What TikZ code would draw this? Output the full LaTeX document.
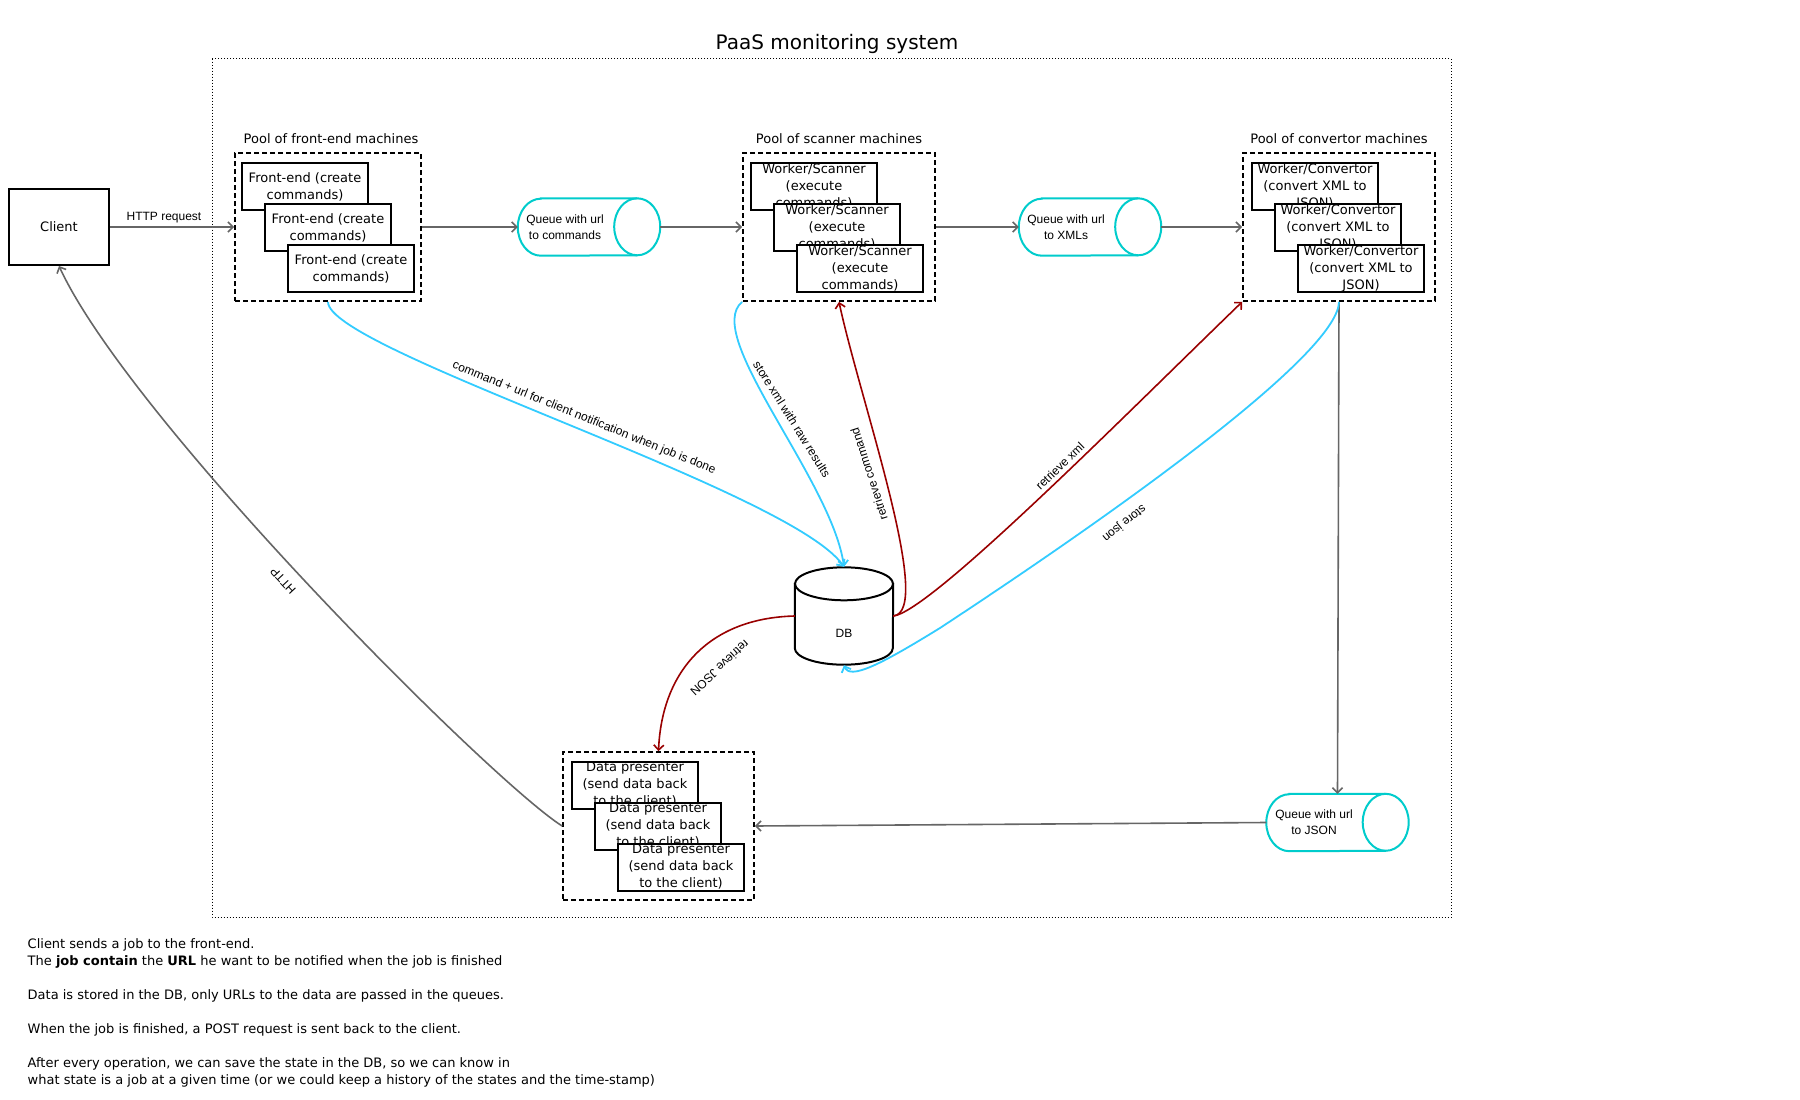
\documentclass[tikz,border=0pt]{standalone}
\usepackage{fontspec}
\setmainfont{DejaVu Sans}
\newfontfamily\lib{Liberation Sans}
\usetikzlibrary{arrows.meta,calc}
\definecolor{gline}{HTML}{666666}
\definecolor{bline}{HTML}{33CCFF}
\definecolor{rline}{HTML}{990000}
\definecolor{qcol}{HTML}{00CCCC}
\newcommand\qshp[1]{%
 \draw[qline] ([xshift=23pt]#1.north west) -- ([xshift=-23pt]#1.north east) arc[start angle=90,end angle=-90,x radius=23pt,y radius=28.5pt] -- ([xshift=23pt]#1.south west) arc[start angle=270,end angle=90,x radius=23pt,y radius=28.5pt] -- cycle;
 \draw[qline,fill=none] ([xshift=-23pt]#1.north east) arc[start angle=90,end angle=270,x radius=23pt,y radius=28.5pt];}
\begin{document}
\begin{tikzpicture}[x=1pt,y=-1pt,
  >={Straight Barb[length=5pt,width=10pt]},
  box/.style={draw=black,line width=2pt,fill=white,minimum width=126pt,minimum height=47pt,inner sep=0pt,align=center,font=\fontsize{13}{17}\selectfont},
  pool/.style={draw=black,line width=1.8pt,dash pattern=on 5pt off 3pt,inner sep=0pt},
  ptitle/.style={font=\fontsize{13}{16}\selectfont,anchor=base,inner sep=0pt},
  qnode/.style={minimum width=142pt,minimum height=57pt,inner sep=0pt},
  qline/.style={draw=qcol,line width=2pt,fill=white},
  qtext/.style={font=\lib\fontsize{12}{16}\selectfont,align=center,inner sep=0pt},
  garrow/.style={draw=gline,line width=1.6pt,->},
  barrow/.style={draw=bline,line width=1.8pt,->},
  rarrow/.style={draw=rline,line width=1.6pt,->},
  elabel/.style={font=\lib\fontsize{12}{14}\selectfont,inner sep=0pt},
  note/.style={font=\fontsize{13}{17}\selectfont,anchor=base west,inner sep=0pt},
]
\useasboundingbox[fill=white] (0,0) rectangle (1800,1100);

% title and frame
\node[font=\fontsize{20}{24}\selectfont] (title) at (837,44) {PaaS monitoring system};
\draw[black,line width=1pt,dash pattern=on 1pt off 2pt] (212,58.5) rectangle (1451,917);

% client
\node[draw=black,line width=2pt,minimum width=100pt,minimum height=76pt,inner sep=0pt,font=\fontsize{13}{17}\selectfont] (client) at (59,227) {Client};

% pools
\node[pool,minimum width=186pt,minimum height=148pt] (fe) at (328,227) {};
\node[pool,minimum width=192pt,minimum height=148pt] (sc) at (839,227) {};
\node[pool,minimum width=192pt,minimum height=148pt] (cv) at (1339,227) {};
\node[pool,minimum width=191pt,minimum height=148pt] (dp) at (658.5,826) {};

\node[ptitle] (fet) at (331,143.5) {Pool of front-end machines};
\node[ptitle] (sct) at (839,143.5) {Pool of scanner machines};
\node[ptitle] (cvt) at (1339,143.5) {Pool of convertor machines};

% boxes
\node[box] (fe1) at (305,186.5) {Front-end (create\\commands)};
\node[box] (fe2) at (328,227.5) {Front-end (create\\commands)};
\node[box] (fe3) at (351,268.5) {Front-end (create\\commands)};

\node[box] (sc1) at (814,186.5) {Worker/Scanner\\(execute\\commands)};
\node[box] (sc2) at (837,227.5) {Worker/Scanner\\(execute\\commands)};
\node[box] (sc3) at (860,268.5) {Worker/Scanner\\(execute\\commands)};

\node[box] (cv1) at (1315,186.5) {Worker/Convertor\\(convert XML to\\JSON)};
\node[box] (cv2) at (1338,227.5) {Worker/Convertor\\(convert XML to\\JSON)};
\node[box] (cv3) at (1361,268.5) {Worker/Convertor\\(convert XML to\\JSON)};

\node[box] (dp1) at (635,785) {Data presenter\\(send data back\\to the client)};
\node[box] (dp2) at (658,826) {Data presenter\\(send data back\\to the client)};
\node[box] (dp3) at (681,867) {Data presenter\\(send data back\\to the client)};

% queues
\node[qnode] (q1) at (589,227) {};
\qshp{q1}
\node[qtext] (q1t) at (565,227) {Queue with url\\to commands};
\node[qnode] (q2) at (1090,227) {};
\qshp{q2}
\node[qtext] (q2t) at (1066,227) {Queue with url\\to XMLs};
\node[qnode] (q3) at (1337.5,822.5) {};
\qshp{q3}
\node[qtext] (q3t) at (1314,822.5) {Queue with url\\to JSON};

% DB
\node[minimum width=98pt,minimum height=98pt,inner sep=0pt] (db) at (844,616) {};
\draw[black,line width=2pt,fill=white] ([yshift=-17pt]db.north west) -- ([yshift=17pt]db.south west) arc[start angle=180,end angle=360,x radius=49pt,y radius=16.5pt] -- ([yshift=-17pt]db.north east) -- cycle;
\draw[black,line width=2pt,fill=white] ([yshift=-17pt]db.north) ellipse [x radius=49pt,y radius=16.5pt];
\node[font=\lib\fontsize{12}{14}\selectfont,inner sep=0pt] (dbt) at (844,633) {DB};

% connectors
\draw[garrow] (client.east) -- (fe.west);
\draw[garrow] (fe.east) -- (q1.west);
\draw[garrow] (q1.east) -- (sc.west);
\draw[garrow] (sc.east) -- (q2.west);
\draw[garrow] (q2.east) -- (cv.west);
\draw[garrow] (cv.south) -- (q3.north);
\draw[garrow] (q3.west) -- (dp.east);
\draw[garrow] (dp.west) .. controls (490,780) and (130,420) .. (client.south);
\draw[barrow] (fe.south) .. controls (328,350) and (790,490) .. (db.north);
\draw[barrow] (sc.south west) .. controls (702,335) and (832,480) .. (db.north);
\draw[rarrow] (db.east) .. controls (935,612) and (860,400) .. (sc.south);
\draw[rarrow] (db.east) .. controls (930,612) and (1120,420) .. (cv.south west);
\draw[barrow] (cv.south) .. controls (1338,350) and (1150,490) .. (940,628) .. controls (880,665) and (850,680) .. (db.south);
\draw[rarrow] (db.west) .. controls (710,618) and (662,670) .. (dp.north);

% edge labels
\node[elabel] (l1) at (164,218) {HTTP request};
\node[elabel,rotate=-22] (l2) at (584,418) {command + url for client notification when job is done};
\node[elabel,rotate=-58] (l3) at (792,419) {store xml with raw results};
\node[elabel,rotate=108] (l4) at (869,474) {retrieve command};
\node[elabel,rotate=44] (l5) at (1060,466) {retrieve xml};
\node[elabel,rotate=-141] (l6) at (1124,523) {store json};
\node[elabel,rotate=-137] (l7) at (720,668) {retrieve JSON};
\node[elabel,rotate=133] (l8) at (283,581) {HTTP};

% notes
\node[note] (n1) at (27.5,948) {Client sends a job to the front-end.};
\node[note] (n2) at (27.5,965) {The \textbf{job contain} the \textbf{URL} he want to be notified when the job is finished};
\node[note] (n3) at (27.5,999) {Data is stored in the DB, only URLs to the data are passed in the queues.};
\node[note] (n4) at (27.5,1033) {When the job is finished, a POST request is sent back to the client.};
\node[note] (n5) at (27.5,1067) {After every operation, we can save the state in the DB, so we can know in};
\node[note] (n6) at (27.5,1084) {what state is a job at a given time (or we could keep a history of the states and the time-stamp)};
\end{tikzpicture}
\end{document}
